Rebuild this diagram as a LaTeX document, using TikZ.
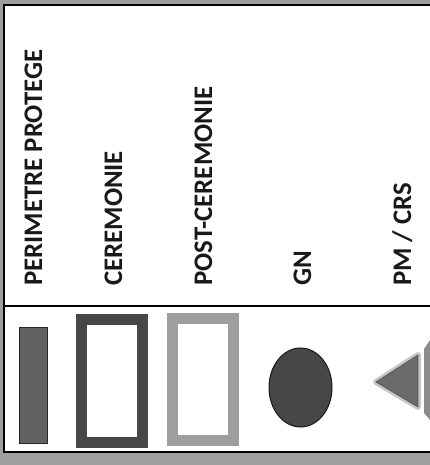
\documentclass[tikz,border=0pt]{standalone}
\usepackage{fontspec}
\setmainfont{Carlito}
\begin{document}
\begin{tikzpicture}[x=1pt,y=1pt,
  lbl/.style={rotate=90,anchor=base west,inner sep=0pt,font=\bfseries\fontsize{26.8}{30}\selectfont,text=black!90},
  frameline/.style={draw=black,line width=2.4pt}]
\useasboundingbox (0,0) rectangle (430,465);
% scanned background around the panel
\fill[black!38] (0,0) rectangle (430,465);
\fill[white] (4,13) rectangle (430,460);
% frame
\draw[frameline] (430,460) -- (4,460) -- (4,13) -- (430,13);
\draw[frameline] (4,159) -- (430,159);
% labels
\node[lbl] (t1) at (42,179) {PERIMETRE PROTEGE};
\node[lbl] (t2) at (122,179) {CEREMONIE};
\node[lbl] (t3) at (212,179) {POST-CEREMONIE};
\node[lbl] (t4) at (311,179) {GN};
\node[lbl] (t5) at (411,179) {PM / CRS};
% symbols
\filldraw[fill=black!62,draw=black!85,line width=1pt] (19,21) rectangle (47,137);
\draw[black!72,line width=11pt] (81.5,22) rectangle (142,145);
\draw[black!38,line width=11pt] (172,24) rectangle (233.5,146);
\filldraw[fill=black!72,draw=black!90,line width=1pt] (300.5,77.5) ellipse [x radius=31.5,y radius=39.5];
\filldraw[draw=black!22,line width=6pt,line join=round,fill=black!22] (376,83) -- (418,110) -- (418,58) -- cycle;
\filldraw[fill=black!58,draw=black!65,line width=0.8pt] (376,83) -- (418,110) -- (418,58) -- cycle;
\fill[black!45] (430,125) -- (424,116) -- (424,52) -- (430,45) -- cycle;
\end{tikzpicture}
\end{document}
